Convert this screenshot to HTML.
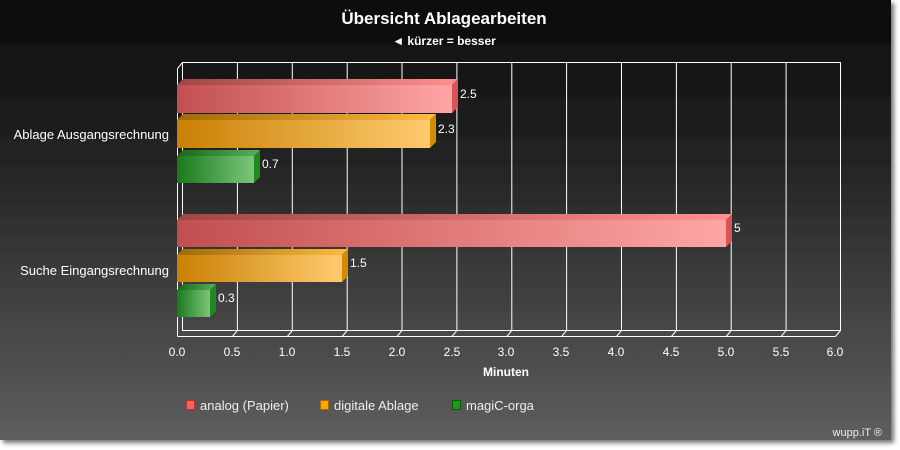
<!DOCTYPE html>
<html><head><meta charset="utf-8"><style>
html,body{margin:0;padding:0;background:#fff;width:900px;height:450px;overflow:hidden}
svg{display:block;font-family:"Liberation Sans",sans-serif}
</style></head><body>
<svg width="900" height="450" viewBox="0 0 900 450">
<defs>
<linearGradient id="bg" x1="0" y1="0" x2="0" y2="1"><stop offset="0" stop-color="#0b0b0b"/><stop offset="0.35" stop-color="#222"/><stop offset="1" stop-color="#5e5e5e"/></linearGradient>
<linearGradient id="r" x1="0" x2="1"><stop offset="0" stop-color="#c24f4f"/><stop offset="1" stop-color="#ffa5a5"/></linearGradient>
<linearGradient id="o" x1="0" x2="1"><stop offset="0" stop-color="#c98005"/><stop offset="1" stop-color="#ffcb6e"/></linearGradient>
<linearGradient id="g" x1="0" x2="1"><stop offset="0" stop-color="#1a7a1a"/><stop offset="1" stop-color="#7cc67c"/></linearGradient>
<linearGradient id="rt" x1="0" x2="1"><stop offset="0" stop-color="#a04545"/><stop offset="1" stop-color="#ff9090"/></linearGradient>
<linearGradient id="ot" x1="0" x2="1"><stop offset="0" stop-color="#a06a05"/><stop offset="1" stop-color="#ffbb44"/></linearGradient>
<linearGradient id="gt" x1="0" x2="1"><stop offset="0" stop-color="#176717"/><stop offset="1" stop-color="#5caf5c"/></linearGradient>
<filter id="sh" x="-5%" y="-5%" width="110%" height="110%"><feDropShadow dx="3" dy="3" stdDeviation="2.5" flood-color="#000" flood-opacity="0.55"/></filter>
</defs>
<rect x="0" y="0" width="891" height="440" fill="url(#bg)" filter="url(#sh)"/>
<text x="444" y="24" fill="#fff" font-size="17" font-weight="bold" text-anchor="middle">Übersicht Ablagearbeiten</text>
<text x="444" y="45" fill="#fff" font-size="12" font-weight="bold" text-anchor="middle">◄ kürzer = besser</text>
<g stroke="#fff" stroke-width="1" fill="none">
<rect x="182.5" y="62.5" width="658" height="268"/>
<line x1="182.5" y1="62.5" x2="177.5" y2="68.5"/>
<line x1="177.5" y1="68.5" x2="177.5" y2="336.5"/>
<line x1="177.5" y1="336.5" x2="835.5" y2="336.5"/>
<line x1="840.5" y1="330.5" x2="835.5" y2="336.5"/>
</g>
<g stroke="#fff" stroke-width="1">
<line x1="237.4" y1="62.5" x2="237.4" y2="330.5"/><line x1="292.3" y1="62.5" x2="292.3" y2="330.5"/><line x1="347.2" y1="62.5" x2="347.2" y2="330.5"/><line x1="402" y1="62.5" x2="402" y2="330.5"/><line x1="456.9" y1="62.5" x2="456.9" y2="330.5"/><line x1="511.8" y1="62.5" x2="511.8" y2="330.5"/><line x1="566.6" y1="62.5" x2="566.6" y2="330.5"/><line x1="621.5" y1="62.5" x2="621.5" y2="330.5"/><line x1="676.4" y1="62.5" x2="676.4" y2="330.5"/><line x1="731.2" y1="62.5" x2="731.2" y2="330.5"/><line x1="786.1" y1="62.5" x2="786.1" y2="330.5"/>
<line x1="237.4" y1="330.5" x2="232.4" y2="336.5"/><line x1="292.3" y1="330.5" x2="287.3" y2="336.5"/><line x1="347.2" y1="330.5" x2="342.2" y2="336.5"/><line x1="402" y1="330.5" x2="397" y2="336.5"/><line x1="456.9" y1="330.5" x2="451.9" y2="336.5"/><line x1="511.8" y1="330.5" x2="506.8" y2="336.5"/><line x1="566.6" y1="330.5" x2="561.6" y2="336.5"/><line x1="621.5" y1="330.5" x2="616.5" y2="336.5"/><line x1="676.4" y1="330.5" x2="671.4" y2="336.5"/><line x1="731.2" y1="330.5" x2="726.2" y2="336.5"/><line x1="786.1" y1="330.5" x2="781.1" y2="336.5"/>
</g>
<g>
<polygon points="177,85 183,79 458,79 452,85" fill="url(#rt)"/><rect x="177" y="85" width="275" height="28" fill="url(#r)"/><polygon points="452,85 458,79 458,107 452,113" fill="#d85555"/>
<polygon points="177,120 183,114 436,114 430,120" fill="url(#ot)"/><rect x="177" y="120" width="253" height="28" fill="url(#o)"/><polygon points="430,120 436,114 436,142 430,148" fill="#d58a00"/>
<polygon points="177,156 183,150 260,150 254,156" fill="url(#gt)"/><rect x="177" y="156" width="77" height="27" fill="url(#g)"/><polygon points="254,156 260,150 260,177 254,183" fill="#1f8a1f"/>
<polygon points="177,220 183,214 732,214 726,220" fill="url(#rt)"/><rect x="177" y="220" width="549" height="27" fill="url(#r)"/><polygon points="726,220 732,214 732,241 726,247" fill="#d85555"/>
<polygon points="177,255 183,249 348,249 342,255" fill="url(#ot)"/><rect x="177" y="255" width="165" height="27" fill="url(#o)"/><polygon points="342,255 348,249 348,276 342,282" fill="#d58a00"/>
<polygon points="177,290 183,284 216,284 210,290" fill="url(#gt)"/><rect x="177" y="290" width="33" height="27" fill="url(#g)"/><polygon points="210,290 216,284 216,311 210,317" fill="#1f8a1f"/>
</g>
<g fill="#fff" font-size="12">
<text x="460" y="98">2.5</text><text x="438" y="133">2.3</text><text x="262" y="168">0.7</text>
<text x="734" y="232">5</text><text x="350" y="267">1.5</text><text x="218" y="302">0.3</text>
<text x="169" y="139" text-anchor="end" font-size="13">Ablage Ausgangsrechnung</text>
<text x="169" y="275" text-anchor="end" font-size="13">Suche Eingangsrechnung</text>
</g>
<g fill="#fff" font-size="12" text-anchor="middle">
<text x="177" y="356">0.0</text><text x="232" y="356">0.5</text><text x="287" y="356">1.0</text><text x="342" y="356">1.5</text><text x="397" y="356">2.0</text><text x="452" y="356">2.5</text><text x="506" y="356">3.0</text><text x="561" y="356">3.5</text><text x="616" y="356">4.0</text><text x="671" y="356">4.5</text><text x="726" y="356">5.0</text><text x="781" y="356">5.5</text><text x="835" y="356">6.0</text>
<text x="506" y="376" font-weight="bold">Minuten</text>
</g>
<g font-size="13" fill="#eee">
<rect x="186.5" y="400.5" width="8" height="9" fill="#ff5e5e" stroke="#a33" stroke-width="1"/><text x="200" y="410">analog (Papier)</text>
<rect x="320.5" y="400.5" width="8" height="9" fill="#ffa500" stroke="#a66a00" stroke-width="1"/><text x="334" y="410">digitale Ablage</text>
<rect x="452.5" y="400.5" width="8" height="9" fill="#1c9a1c" stroke="#0a5a0a" stroke-width="1"/><text x="466" y="410">magiC-orga</text>
<text x="882" y="436" text-anchor="end" font-size="11">wupp.iT ®</text>
</g>
</svg>
</body></html>
